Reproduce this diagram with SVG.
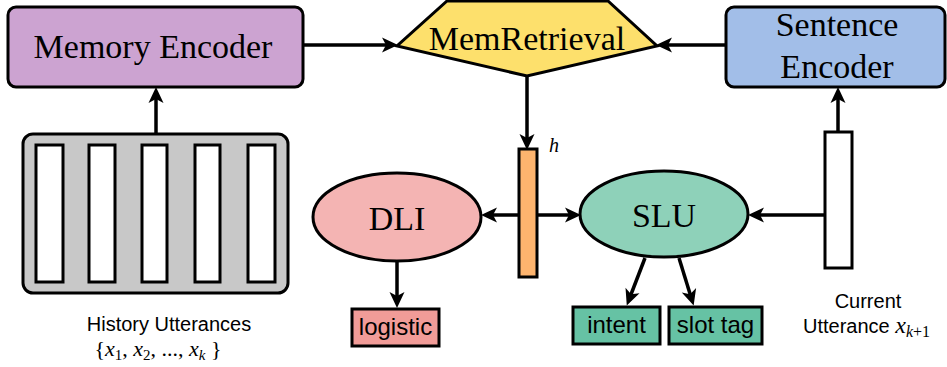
<svg xmlns="http://www.w3.org/2000/svg" width="947" height="367" viewBox="0 0 947 367">
<style>
.box{stroke:#000;stroke-width:3}
.serif{font-family:"Liberation Serif","Times New Roman",serif;font-size:34px;fill:#000;text-anchor:middle}
.sans{font-family:"Liberation Sans",Arial,sans-serif;fill:#000;text-anchor:middle}
.it{font-family:"Liberation Serif","Times New Roman",serif;font-style:italic}
.edge{stroke:#000;stroke-width:3.5;fill:none}
</style>
<defs>
<marker id="ah" markerUnits="userSpaceOnUse" markerWidth="30" markerHeight="30" refX="0" refY="0" orient="auto" viewBox="-15 -15 30 30" overflow="visible">
<path d="M-7,-7.5 L9,0 L-7,7.5 L-3,0 z" fill="#000"/>
</marker>
</defs>
<g id="connectors">
<line class="edge" x1="303" y1="45" x2="389" y2="45" marker-end="url(#ah)"/>
<line class="edge" x1="726" y1="45" x2="665" y2="45" marker-end="url(#ah)"/>
<line class="edge" x1="527" y1="76" x2="527" y2="141" marker-end="url(#ah)"/>
<line class="edge" x1="156" y1="134" x2="156" y2="96" marker-end="url(#ah)"/>
<line class="edge" x1="838" y1="132" x2="838" y2="96" marker-end="url(#ah)"/>
<line class="edge" x1="519" y1="215" x2="490" y2="215" marker-end="url(#ah)"/>
<line class="edge" x1="537" y1="215" x2="572" y2="215" marker-end="url(#ah)"/>
<line class="edge" x1="825" y1="215" x2="757" y2="215" marker-end="url(#ah)"/>
<line class="edge" x1="397" y1="261" x2="397" y2="299" marker-end="url(#ah)"/>
<line class="edge" x1="645" y1="258" x2="630" y2="297" marker-end="url(#ah)"/>
<line class="edge" x1="679" y1="258" x2="691" y2="297" marker-end="url(#ah)"/>
</g>
<g id="memory-encoder">
<rect class="box" x="8" y="7" width="295" height="80" rx="8" fill="#CCA3D1"/>
<text class="serif" x="153" y="58">Memory Encoder</text>
</g>
<g id="memretrieval">
<polygon class="box" points="447,1 608,1 657,46 527,76 397,46" fill="#FDE06C"/>
<text class="serif" x="527" y="50">MemRetrieval</text>
</g>
<g id="sentence-encoder">
<rect class="box" x="726" y="7" width="219" height="80" rx="8" fill="#A2BEE8"/>
<text class="serif" x="837" y="36">Sentence</text>
<text class="serif" x="837" y="78">Encoder</text>
</g>
<g id="history">
<rect class="box" x="23" y="134" width="265" height="159" rx="10" fill="#C8C8C8"/>
<rect class="box" x="36" y="145" width="27" height="137" fill="#fff"/>
<rect class="box" x="89" y="145" width="26" height="137" fill="#fff"/>
<rect class="box" x="142" y="145" width="25" height="137" fill="#fff"/>
<rect class="box" x="195" y="145" width="25" height="137" fill="#fff"/>
<rect class="box" x="248" y="145" width="27" height="137" fill="#fff"/>
<text class="sans" x="169" y="331" font-size="20">History Utterances</text>
<text class="it" x="158" y="356" font-size="22" style="text-anchor:middle"><tspan font-style="normal">{</tspan>x<tspan font-size="15" dy="4" font-style="normal">1</tspan><tspan dy="-4" font-style="normal">, </tspan>x<tspan font-size="15" dy="4" font-style="normal">2</tspan><tspan dy="-4" font-style="normal">, ..., </tspan>x<tspan font-size="15" dy="4">k</tspan><tspan dy="-4" font-style="normal"> }</tspan></text>
</g>
<g id="h-vector">
<rect class="box" x="519" y="149" width="18" height="128" fill="#FDB46E"/>
<text class="it" x="549" y="152" font-size="20">h</text>
</g>
<g id="dli">
<ellipse class="box" cx="397" cy="217" rx="84" ry="44" fill="#F4B4B3"/>
<text class="serif" x="397" y="230">DLI</text>
</g>
<g id="slu">
<ellipse class="box" cx="664" cy="214" rx="84" ry="43" fill="#8ED1B9"/>
<text class="serif" x="664" y="227">SLU</text>
</g>
<g id="current-utterance">
<rect class="box" x="825" y="132" width="27" height="136" fill="#fff"/>
<text class="sans" x="868" y="308" font-size="20">Current</text>
<text class="sans" x="803" y="333" font-size="20" style="text-anchor:start">Utterance <tspan class="it" font-size="24">x</tspan><tspan class="it" font-size="16" dy="4">k</tspan><tspan font-family="Liberation Serif" font-size="16">+1</tspan></text>
</g>
<g id="logistic">
<rect class="box" x="352" y="309" width="87" height="37" fill="#F19C98"/>
<text class="sans" x="395.5" y="335" font-size="24">logistic</text>
</g>
<g id="intent">
<rect class="box" x="573" y="307" width="87" height="37" fill="#66C2A4"/>
<text class="sans" x="616.5" y="333" font-size="24">intent</text>
</g>
<g id="slot-tag">
<rect class="box" x="669" y="307" width="93" height="37" fill="#66C2A4"/>
<text class="sans" x="715.5" y="333" font-size="24">slot tag</text>
</g>
</svg>
